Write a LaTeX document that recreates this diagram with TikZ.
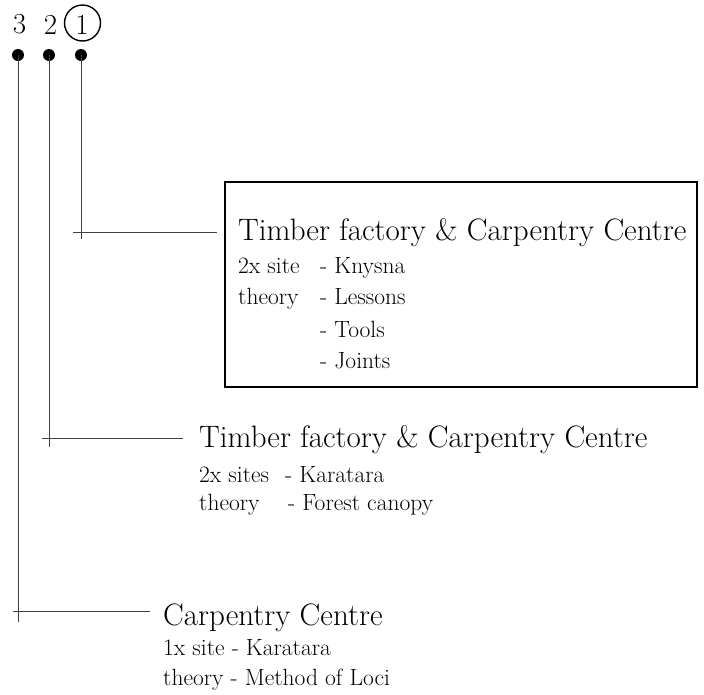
\documentclass[tikz,border=0pt]{standalone}
\begin{document}
\begin{tikzpicture}[x=1pt,y=-1pt,
  conn/.style={line width=0.9pt,draw=black!75},
  dotn/.style={circle,fill=black,inner sep=0pt,minimum size=12pt},
  num/.style={font=\fontsize{29}{33}\selectfont,inner sep=0pt},
  ttl/.style={anchor=base west,inner sep=0pt,font=\fontsize{31}{36}\selectfont},
  txt/.style={anchor=base west,inner sep=0pt,font=\fontsize{23.5}{28}\selectfont}]
\useasboundingbox (0,0) rectangle (704,694);
% numbers
\node[num] (n3) at (19.5,24.5) {3};
\node[num] (n2) at (50.5,24.5) {2};
\node[num] (n1) at (82,24.5) {1};
\draw[line width=1.4pt] (82.5,23) circle (18);
% dots
\node[dotn] (d3) at (18,55) {};
\node[dotn] (d2) at (49,55) {};
\node[dotn] (d1) at (81,55) {};
% connector end points
\coordinate (v1) at (81,239);
\coordinate (v2) at (49,447);
\coordinate (v3) at (18,622);
\coordinate (h1a) at (73,232);
\coordinate (h1b) at (217,232);
\coordinate (h2a) at (42,438);
\coordinate (h2b) at (183,438);
\coordinate (h3a) at (13,611);
\coordinate (h3b) at (150,611);
\draw[conn] (d1.center) -- (v1);
\draw[conn] (d2.center) -- (v2);
\draw[conn] (d3.center) -- (v3);
\draw[conn] (h1a) -- (h1b);
\draw[conn] (h2a) -- (h2b);
\draw[conn] (h3a) -- (h3b);
% box 1
\draw[line width=2pt] (225,182) rectangle (697,387);
\node[ttl] (t1) at (238,240) {Timber factory \& Carpentry Centre};
\node[txt] (a1) at (238,273) {2x site};
\node[txt] (b1) at (320,273) {- Knysna};
\node[txt] (a2) at (238,304) {theory};
\node[txt] (b2) at (320,304) {- Lessons};
\node[txt] (b3) at (320,337) {- Tools};
\node[txt] (b4) at (320,368) {- Joints};
% box 2
\node[ttl] (t2) at (199,447) {Timber factory \& Carpentry Centre};
\node[txt] (c1) at (199,482) {2x sites};
\node[txt] (e1) at (285,482) {- Karatara};
\node[txt] (c2) at (199,510) {theory};
\node[txt] (e2) at (288,510) {- Forest canopy};
% box 3
\node[ttl] (t3) at (163,625) {Carpentry Centre};
\node[txt] (f1) at (163,655) {1x site - Karatara};
\node[txt] (f2) at (163,685) {theory - Method of Loci};
\end{tikzpicture}
\end{document}
